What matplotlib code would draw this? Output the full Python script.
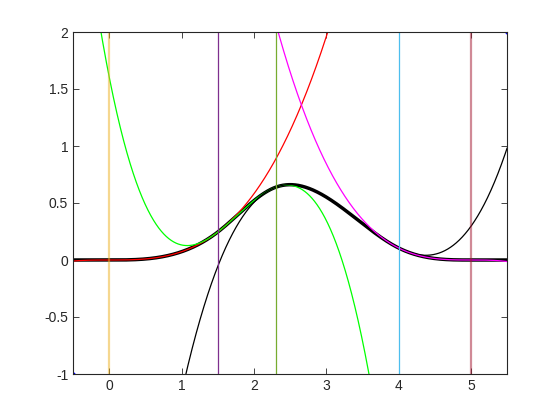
import numpy as np
import matplotlib
matplotlib.use('Agg')
import matplotlib.pyplot as plt

# knots of the cubic B-spline
knots = [0, 1.5, 2.3, 4, 5]
knot_colors = ['#EDB120', '#7E2F8E', '#77AC30', '#4DBEEE', '#A2142F']
knot_alpha = [0.5, 1, 1, 1, 0.5]
piece_colors = ['#FF0000', '#00FF00', '#000000', '#FF00FF']
xlim = [-0.5, 5.5]
ylim = [-1, 2]


def bspline(x, t, k):
    # Cox-de Boor recursion
    if k == 0:
        return np.where((x >= t[0]) & (x < t[1]), 1.0, 0.0)
    a = (x - t[0]) / (t[k] - t[0]) * bspline(x, t[:-1], k - 1)
    b = (t[k + 1] - x) / (t[k + 1] - t[1]) * bspline(x, t[1:], k - 1)
    return a + b


t = np.array(knots, dtype=float)
x = np.linspace(xlim[0], xlim[1], 2000)
y = bspline(x, t, 3)

plt.rcParams['font.family'] = ['Liberation Sans', 'DejaVu Sans']
fig = plt.figure(figsize=(5.6, 4.2), dpi=100)
ax = fig.add_axes([73 / 560, 46 / 420, 434 / 560, 342 / 420])

ax.plot(x, y, 'k', lw=2.5)

# each polynomial piece, extended over the full range
for i, c in enumerate(piece_colors):
    xs = np.linspace(t[i], t[i + 1], 50, endpoint=False)
    p = np.polyfit(xs, bspline(xs, t, 3), 3)
    ax.plot(x, np.polyval(p, x), color=c, lw=0.9)

for k, c, a in zip(knots, knot_colors, knot_alpha):
    ax.plot([k, k], ylim, color=c, alpha=a, lw=1.6 if a < 1 else 0.9)

ax.plot(xlim, ylim, '.', color='#0000FF', ms=4)

ax.set_xlim(xlim)
ax.set_ylim(ylim)
ax.set_xticks(range(0, 6))
ax.set_yticks(np.arange(-1, 2.01, 0.5))
ax.set_yticklabels(['-1', '-0.5', '0', '0.5', '1', '1.5', '2'])
ax.tick_params(direction='in', top=True, right=True, labelsize=10, length=4,
               width=0.6, colors='#262626')
for s in ax.spines.values():
    s.set_linewidth(0.8)
    s.set_color('#262626')

fig.savefig('out.png', dpi=100)
